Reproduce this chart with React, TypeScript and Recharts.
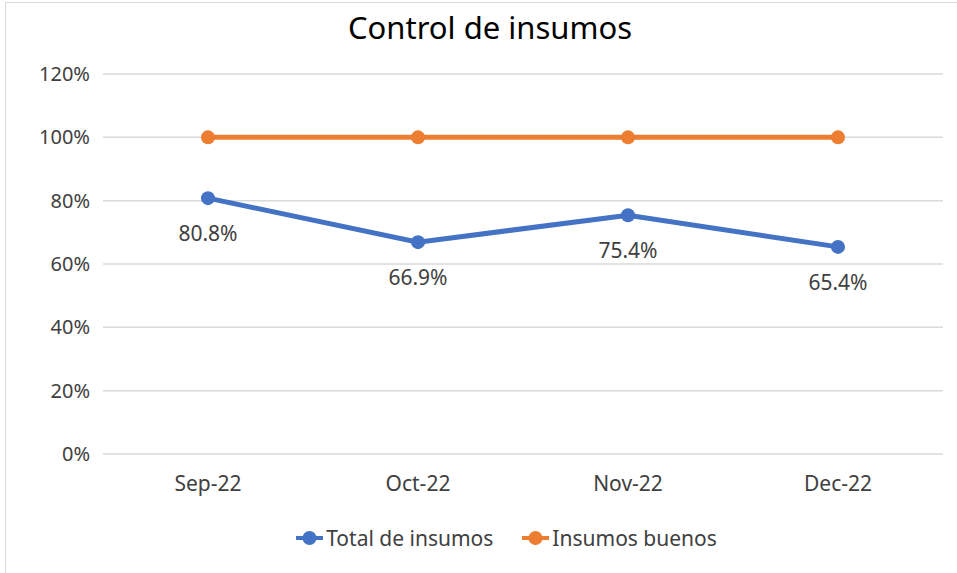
import { CartesianGrid, LabelList, Legend, Line, LineChart, XAxis, YAxis } from "recharts";

const months = ["Sep-22", "Oct-22", "Nov-22", "Dec-22"];
const totalInsumos = [80.8, 66.9, 75.4, 65.4];
const insumosBuenos = [100, 100, 100, 100];
const yTicks = [0, 20, 40, 60, 80, 100, 120];

const data = months.map((m, i) => ({
  month: m,
  total: totalInsumos[i],
  buenos: insumosBuenos[i],
}));

const BLUE = "#4472C4";
const ORANGE = "#ED7D31";
const FONT = "'Noto Sans', sans-serif";

function LegendContent() {
  const items = [
    { name: "Total de insumos", color: BLUE },
    { name: "Insumos buenos", color: ORANGE },
  ];
  return (
    <div
      style={{
        display: "flex",
        justifyContent: "center",
        gap: 29,
        paddingLeft: 70,
        fontFamily: FONT,
        fontSize: 21,
        color: "#404040",
      }}
    >
      {items.map((it) => (
        <div key={it.name} style={{ display: "flex", alignItems: "center" }}>
          <svg width={27} height={16}>
            <line x1={0} y1={8} x2={27} y2={8} stroke={it.color} strokeWidth={4} />
            <circle cx={13.5} cy={8} r={7} fill={it.color} />
          </svg>
          <span style={{ marginLeft: 3 }}>{it.name}</span>
        </div>
      ))}
    </div>
  );
}

export default function App() {
  return (
    <div style={{ position: "absolute", left: 0, top: 0, width: 957, height: 573, background: "#fff" }}>
      <div
        style={{
          position: "absolute",
          left: 5,
          top: 2,
          right: 0,
          bottom: 0,
          borderLeft: "1px solid #d9d9d9",
          borderTop: "1px solid #d9d9d9",
        }}
      />
      <div
        style={{
          position: "absolute",
          top: 6,
          left: 0,
          width: 980,
          textAlign: "center",
          fontFamily: FONT,
          fontSize: 31,
          color: "#000",
        }}
      >
        Control de insumos
      </div>
      <LineChart width={957} height={573} data={data} margin={{ top: 74, right: 14, bottom: 21, left: 0 }}>
        <CartesianGrid vertical={false} stroke="#d9d9d9" strokeWidth={1.5} />
        <XAxis
          dataKey="month"
          axisLine={false}
          tickLine={false}
          tickMargin={16}
          height={70}
          padding={{ left: 105, right: 105 }}
          tick={{ fill: "#404040", fontSize: 21, fontFamily: FONT }}
        />
        <YAxis
          domain={[0, 120]}
          ticks={yTicks}
          width={103}
          axisLine={false}
          tickLine={false}
          tickMargin={7}
          tickFormatter={(v) => `${v}%`}
          tick={{ fill: "#404040", fontSize: 20, fontFamily: FONT }}
        />
        <Legend verticalAlign="bottom" content={<LegendContent />} />
        <Line
          type="linear"
          dataKey="total"
          name="Total de insumos"
          stroke={BLUE}
          strokeWidth={5}
          dot={{ r: 7, fill: BLUE, stroke: BLUE, strokeWidth: 0 }}
          isAnimationActive={false}
        >
          <LabelList
            dataKey="total"
            position="bottom"
            offset={28}
            formatter={(v: number) => `${v.toFixed(1)}%`}
            style={{ fill: "#404040", fontSize: 21, fontFamily: FONT }}
          />
        </Line>
        <Line
          type="linear"
          dataKey="buenos"
          name="Insumos buenos"
          stroke={ORANGE}
          strokeWidth={5}
          dot={{ r: 7, fill: ORANGE, stroke: ORANGE, strokeWidth: 0 }}
          isAnimationActive={false}
        />
      </LineChart>
    </div>
  );
}
